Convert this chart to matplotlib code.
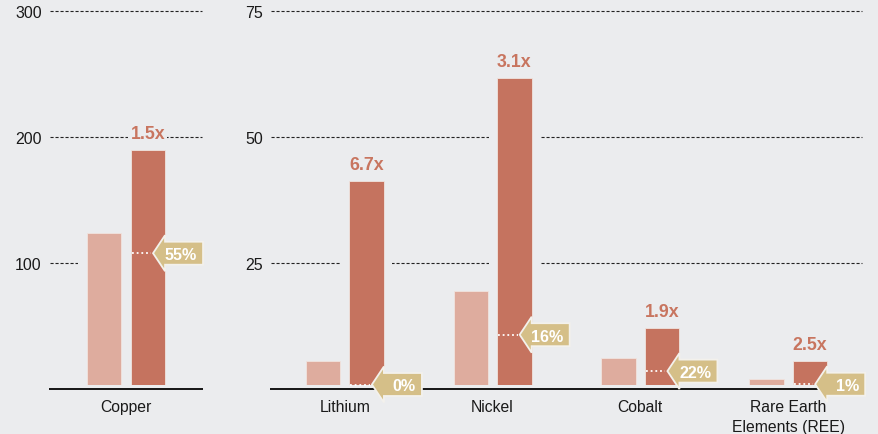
import matplotlib
matplotlib.use("Agg")
import matplotlib.pyplot as plt
from matplotlib.patches import Polygon
from matplotlib.lines import Line2D
from matplotlib.transforms import Affine2D, ScaledTranslation

plt.rcParams['font.family'] = ['Liberation Sans', 'DejaVu Sans']

# Copper (left scale)
copper_cat = ["Copper"]
copper_now = [124.3]
copper_future = [189.6]
copper_ratio = ["1.5x"]
copper_share = [55]
copper_ticks = [100, 200, 300]

# Battery and magnet metals (right scale)
metal_cat = ["Lithium", "Nickel", "Cobalt", "Rare Earth\nElements (REE)"]
metal_now = [5.6, 19.4, 6.1, 1.9]
metal_future = [41.3, 61.8, 12.1, 5.5]
metal_ratio = ["6.7x", "3.1x", "1.9x", "2.5x"]
metal_share = [0, 16, 22, 1]
metal_ticks = [25, 50, 75]

BG = "#EBECEE"
LIGHT = "#DEAC9E"
DARK = "#C5735F"
TAG = "#D5BF88"
RATIO = "#C8755F"
INK = "#1A1A1A"

W, H = 879, 435
DPI = 100
fig = plt.figure(figsize=(W / DPI, H / DPI), dpi=DPI, facecolor=BG)

ax_l = fig.add_axes([50 / W, 45 / H, 152 / W, 377.7 / H])
ax_r = fig.add_axes([271 / W, 45 / H, 591 / W, 377.7 / H])

PT = 72 / DPI  # points per pixel


def pixel_offset(ax, x, y):
    """Transform mapping pixel offsets onto the data point (x, y)."""
    return Affine2D().scale(DPI / 100) + ScaledTranslation(x, y, ax.transData)


def draw_panel(ax, cats, now, future, ratios, shares, ticks, width_px):
    n = len(cats)
    ax.set_facecolor(BG)
    ax.set_xlim(-0.5, n - 0.5)
    ax.set_ylim(0, ticks[-1])
    unit = width_px / n
    bw = 34.5 / unit
    off = 21.8 / unit
    halo = 8.5 / unit

    for t in ticks:
        ax.axhline(t, color="#222222", lw=0.8, ls=(0, (2.8, 1.7)),
                   zorder=1, clip_on=False)

    for i in range(n):
        for xc, h, c in ((i - off, now[i], LIGHT), (i + off, future[i], DARK)):
            ax.bar(xc, h, width=bw + 2 * halo, color=BG, linewidth=0, zorder=2)
            ax.bar(xc, h, width=bw, color=c, edgecolor="#F0E4DF",
                   linewidth=0.6, zorder=3)

        xr = i + off + bw / 2
        # growth multiple above the future bar
        ax.annotate(ratios[i], (i + off, future[i]), xytext=(0, 12 * PT),
                    textcoords="offset points", ha="center", va="baseline",
                    color=RATIO, fontsize=12.8, fontweight="bold", zorder=7,
                    bbox=dict(boxstyle="square,pad=0.12", fc=BG, ec="none"))

        # share tag pointing into the future bar
        ym = shares[i] / 100 * future[i]
        tr = pixel_offset(ax, xr, ym)
        verts = [(-12, 4.5), (0, 22.5), (0, 16), (38, 16), (38, -7),
                 (0, -7), (0, -13.5)]
        ax.add_patch(Polygon(verts, closed=True, transform=tr, fc=TAG,
                             ec="#F3F1EC", lw=1.3, zorder=6, clip_on=False))
        ax.add_line(Line2D([-33.5, -14], [4.5, 4.5], transform=tr,
                           color="white", lw=1.3, ls=(0, (1.0, 1.6)),
                           zorder=6, clip_on=False))
        ax.annotate(f"{shares[i]}%", (xr, ym), xytext=(32 * PT, 4.5 * PT),
                    textcoords="offset points", ha="right",
                    va="center_baseline", color="white", fontsize=11.6,
                    fontweight="bold", zorder=8)

    # baseline: a background strip lifts the bars off the axis line
    ax.axhline(0, color=BG, lw=9 * PT, zorder=4)
    ax.axhline(0, color=INK, lw=2 * PT, zorder=5, clip_on=False)

    for s in ax.spines.values():
        s.set_visible(False)
    ax.set_yticks(ticks)
    ax.set_yticklabels([str(t) for t in ticks])
    ax.set_xticks(range(n))
    ax.set_xticklabels(cats, linespacing=1.45)
    ax.tick_params(axis="y", length=0, pad=6, labelsize=11.5, labelcolor=INK)
    ax.tick_params(axis="x", length=0, pad=7, labelsize=11.3, labelcolor=INK)


draw_panel(ax_l, copper_cat, copper_now, copper_future, copper_ratio,
           copper_share, copper_ticks, 152)
draw_panel(ax_r, metal_cat, metal_now, metal_future, metal_ratio,
           metal_share, metal_ticks, 591)

fig.savefig("out.png", dpi=DPI, facecolor=BG)
